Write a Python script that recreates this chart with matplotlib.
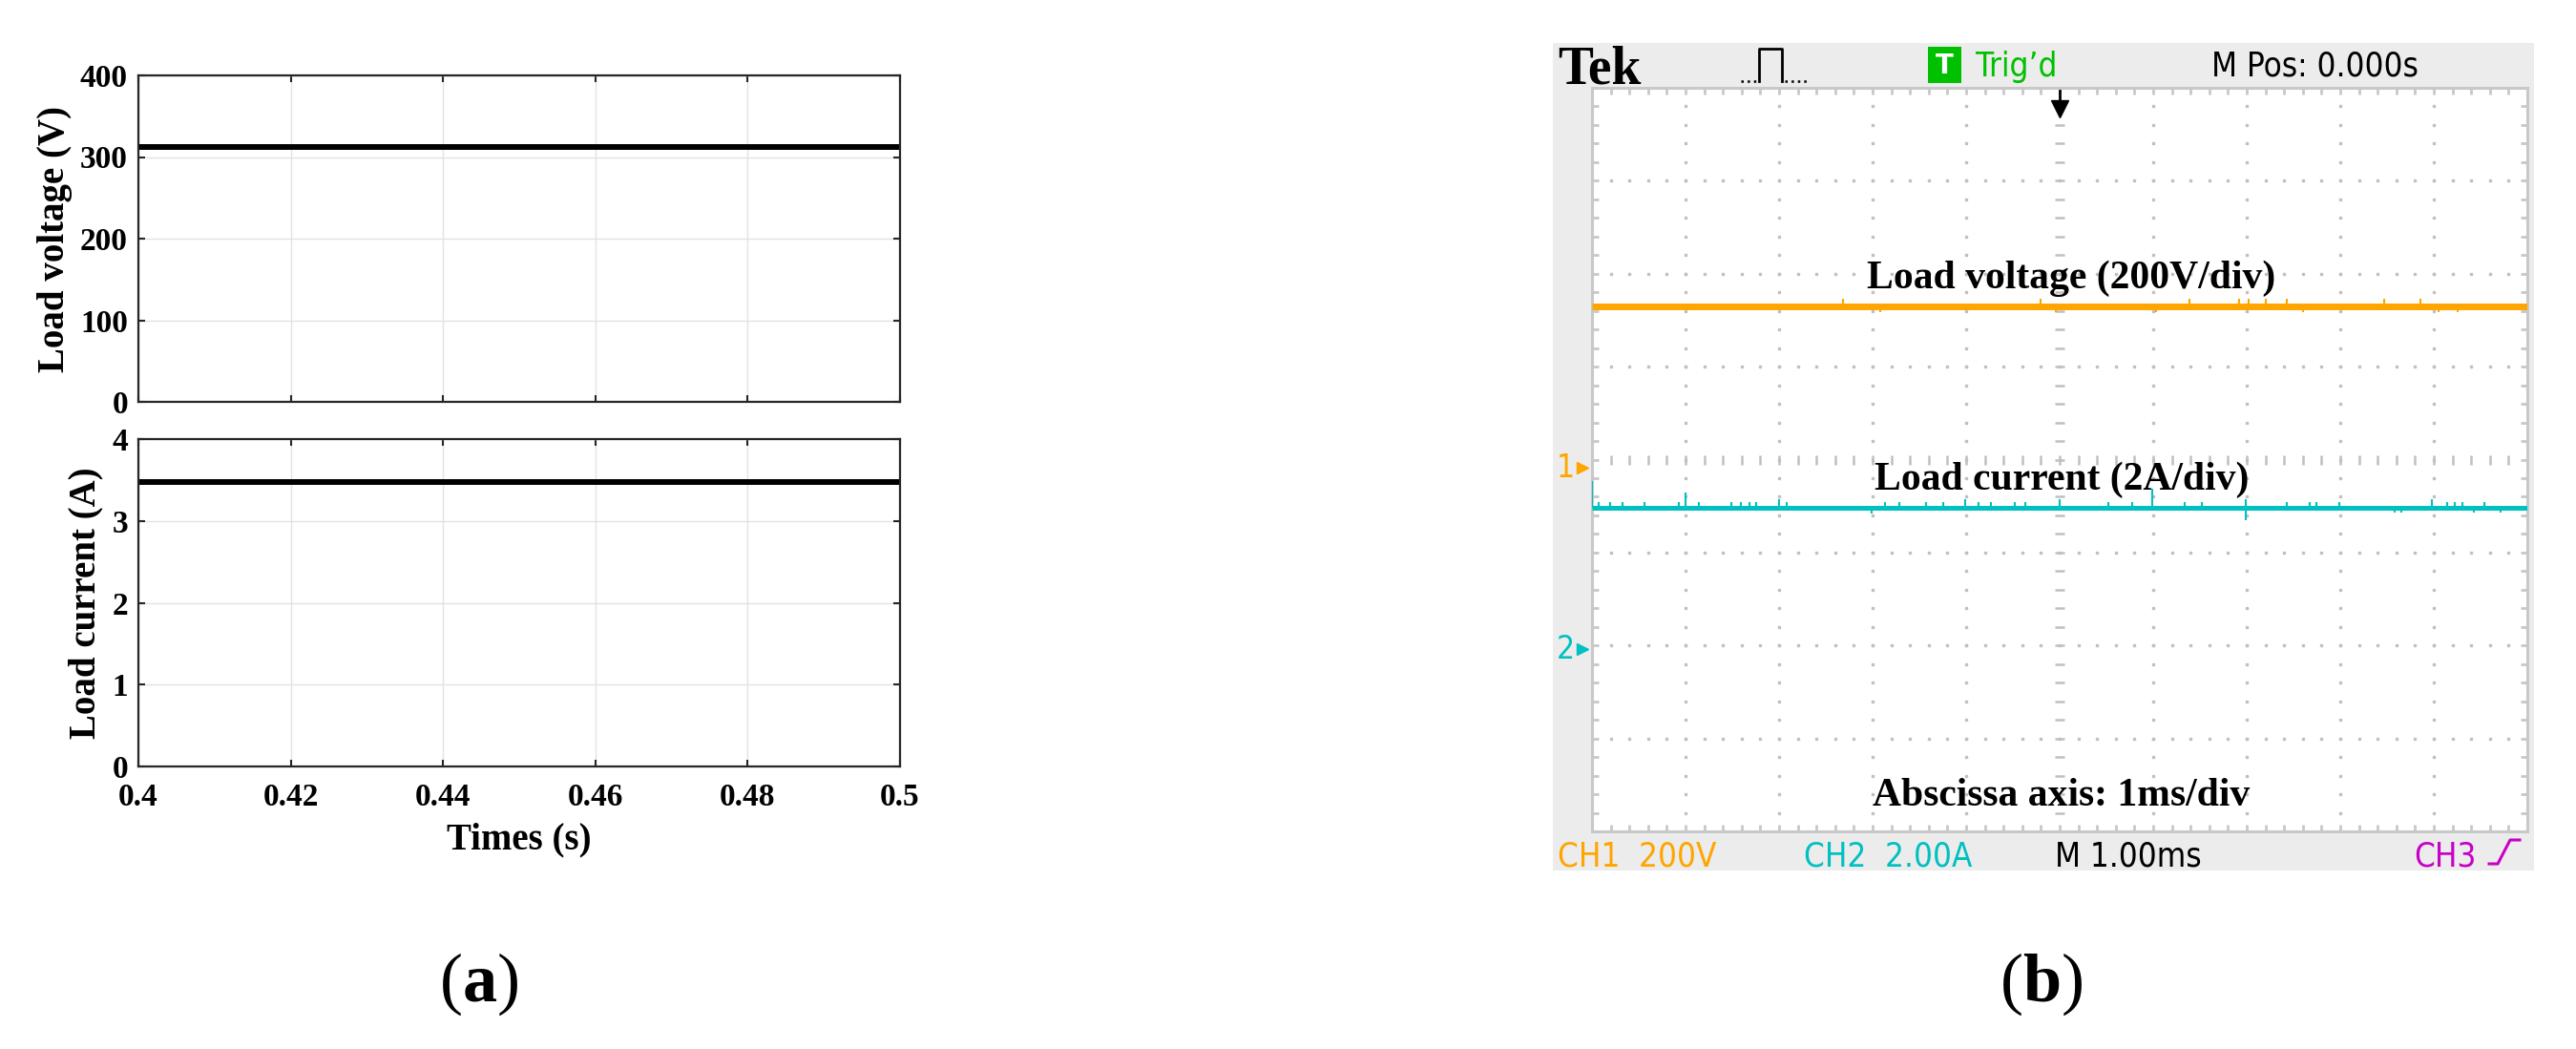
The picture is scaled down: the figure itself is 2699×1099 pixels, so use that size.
import numpy as np
import matplotlib
matplotlib.use('Agg')
from matplotlib import pyplot as plt
from matplotlib.patches import Rectangle

W, H = 2699, 1099

# (a) simulated load waveforms
sim_time = [0.4, 0.5]
sim_voltage = [312, 312]
sim_current = [3.48, 3.48]
time_ticks = [0.4, 0.42, 0.44, 0.46, 0.48, 0.5]
time_labels = ['0.4', '0.42', '0.44', '0.46', '0.48', '0.5']
voltage_ticks = [0, 100, 200, 300, 400]
current_ticks = [0, 1, 2, 3, 4]

# (b) oscilloscope capture (1 ms/div, 10 div wide)
scope_time = [0.0, 10.0]
ch1_v_per_div = 200
ch2_a_per_div = 2
ch1_offset_div = -0.09
ch2_offset_div = -2.04
scope_voltage = [348, 348]
scope_current = [3.04, 3.04]
# small glitches seen on the traces (time in ms, deviation)
v_glitch_t = [2.68, 3.08, 4.80, 4.96, 6.03, 6.39, 6.92, 7.02, 7.20, 7.43, 7.60, 8.47, 8.86, 9.05, 9.25]
v_glitch_dv = [16, -13, 16, -13, -13, 16, 16, 16, 16, 16, -13, 16, 16, -13, -13]
i_glitch_t = [0.00, 0.07, 0.19, 0.33, 0.56, 0.93, 1.00, 1.14, 1.49, 1.59, 1.68, 1.75, 2.00, 2.08,
              2.99, 3.13, 3.29, 3.57, 3.76, 3.99, 4.13, 4.27, 4.52, 4.63, 5.00, 5.52, 5.78, 5.99,
              6.34, 6.52, 6.99, 6.99, 7.43, 7.67, 7.74, 7.99, 8.58, 8.65, 8.98, 9.14, 9.22, 9.31,
              9.43, 9.54, 9.71]
i_glitch_di = [0.57, 0.12, 0.12, 0.12, 0.12, 0.12, 0.34, 0.12, 0.12, 0.12, 0.12, 0.12, 0.18, 0.12,
               -0.12, 0.12, 0.12, 0.12, 0.12, 0.18, 0.12, 0.12, 0.12, 0.12, 0.18, 0.12, 0.12, 0.42,
               0.12, 0.12, 0.18, -0.27, 0.12, 0.12, 0.12, 0.12, -0.10, -0.10, 0.18, 0.12, 0.12, 0.12,
               -0.10, 0.12, -0.10]

plt.rcParams['font.family'] = 'Liberation Serif'
plt.rcParams['font.weight'] = 'bold'
plt.rcParams['axes.labelweight'] = 'bold'
plt.rcParams['mathtext.fontset'] = 'custom'
plt.rcParams['mathtext.rm'] = 'Liberation Serif'
plt.rcParams['mathtext.bf'] = 'Liberation Serif:bold'
lcd = dict(family='DejaVu Sans', fontstretch='condensed', fontweight='normal')

fig = plt.figure(figsize=(W / 100, H / 100), dpi=100)

# ---------- (a) ----------
ax1 = fig.add_axes([145 / W, 1 - 421 / H, 798 / W, 342 / H], zorder=2)
ax2 = fig.add_axes([145 / W, 1 - 803 / H, 798 / W, 343 / H], zorder=2)
for ax, y, yt, lab in [(ax1, sim_voltage, voltage_ticks, 'Load voltage (V)'),
                       (ax2, sim_current, current_ticks, 'Load current (A)')]:
    ax.plot(sim_time, y, color='black', lw=4.3, solid_capstyle='butt')
    ax.set_xlim(0.4, 0.5)
    ax.set_ylim(yt[0], yt[-1])
    ax.set_xticks(time_ticks)
    ax.set_yticks(yt)
    ax.grid(True, color='#e2e2e2', lw=1)
    ax.tick_params(direction='in', top=True, right=True, length=5, width=1.5,
                   labelsize=24, pad=8, color='#262626')
    for s in ax.spines.values():
        s.set_linewidth(1.6)
        s.set_color('#262626')
    ax.set_ylabel(lab, fontsize=28, fontweight='bold', labelpad=6)
ax1.set_xticklabels([])
ax2.set_xticklabels(time_labels)
ax2.tick_params(axis='x', pad=12)
ax2.set_xlabel('Times (s)', fontsize=28, fontweight='bold', labelpad=8)

# ---------- (b) ----------
deco = fig.add_axes([0, 0, 1, 1], zorder=0)
deco.set_xlim(0, W)
deco.set_ylim(H, 0)
deco.axis('off')
deco.add_patch(Rectangle((1627, 45), 1028, 867, color='#ececec', lw=0))

sc = fig.add_axes([1668 / W, 1 - 871 / H, 980 / W, 779 / H], zorder=3)
sc.set_xlim(0, 10)
sc.set_ylim(-4, 4)
sc.set_xticks(np.arange(0, 10.01, 0.2))
sc.set_yticks(np.arange(-4, 4.01, 0.2))
sc.tick_params(direction='in', top=True, right=True, length=5, width=2, color='#c8c8c8',
               labelbottom=False, labelleft=False)
for s in sc.spines.values():
    s.set_linewidth(2.2)
    s.set_color('#c8c8c8')

dot = dict(color='#c0c0c0', ls='none', zorder=1)
minor_y = np.arange(-3.8, 3.81, 0.2)
minor_x = np.arange(0.2, 9.81, 0.2)
for i in range(1, 10):
    if i != 5:
        sc.plot(np.full_like(minor_y, i), minor_y, marker='s', ms=1.7, **dot)
for j in range(-3, 4):
    if j != 0:
        sc.plot(minor_x, np.full_like(minor_x, j), marker='s', ms=1.7, **dot)
sc.plot(np.full_like(minor_y, 5), minor_y, marker='_', ms=7.5, mew=1.8, **dot)
sc.plot(minor_x, np.zeros_like(minor_x), marker='|', ms=7.5, mew=1.8, **dot)

orange, cyan, magenta, green = '#ffa500', '#00c0c0', '#c800c8', '#00c000'
v_div = [ch1_offset_div + v / ch1_v_per_div for v in scope_voltage]
i_div = [ch2_offset_div + a / ch2_a_per_div for a in scope_current]
sc.plot(scope_time, v_div, color=orange, lw=5, solid_capstyle='butt', zorder=3)
sc.vlines(v_glitch_t, v_div[0], [v_div[0] + d / ch1_v_per_div for d in v_glitch_dv],
          color=orange, lw=1.5, zorder=3)
sc.plot(scope_time, i_div, color=cyan, lw=3.6, solid_capstyle='butt', zorder=3)
sc.vlines(i_glitch_t, i_div[0], [i_div[0] + d / ch2_a_per_div for d in i_glitch_di],
          color=cyan, lw=1.5, zorder=3)

sc.text(5.12, 1.844, 'Load voltage (200V/div)', ha='center', va='baseline', fontsize=30, zorder=4)
sc.text(5.02, -0.32, 'Load current (2A/div)', ha='center', va='baseline', fontsize=30, zorder=4)
sc.text(5.02, -3.72, 'Abscissa axis: 1ms/div', ha='center', va='baseline', fontsize=30, zorder=4)

# trigger arrow and channel ground markers
sc.plot([5, 5], [3.97, 3.8], color='black', lw=2, clip_on=False, zorder=5)
sc.plot(5, 3.77, marker='v', ms=13, color='black', clip_on=False, zorder=5)
for off, c, lab in [(ch1_offset_div, orange, '1'), (ch2_offset_div, cyan, '2')]:
    sc.text(-0.38, off, lab, color=c, ha='left', va='center', fontsize=24,
            clip_on=False, **lcd)
    sc.plot(-0.1, off, marker='>', ms=8, color=c, clip_on=False)

# header
deco.text(1632, 87, 'Tek', fontsize=40, va='baseline', ha='left')
deco.plot([1824, 1842], [85, 85], color='black', ls=':', lw=1.8)
deco.plot([1843, 1843, 1867, 1867], [85, 51, 51, 85], color='black', lw=2)
deco.plot([1870, 1894], [85, 85], color='black', ls=':', lw=1.8)
deco.add_patch(Rectangle((2020, 49), 35, 38, color=green, lw=0))
deco.text(2037.5, 69, 'T', color='white', ha='center', va='center', fontsize=20,
          family='DejaVu Sans', fontweight='bold')
hdr = dict(va='baseline', ha='left', fontsize=25, **lcd)
deco.text(2070, 80, 'Trig\u2019d', color=green, **hdr)
deco.text(2317, 80, 'M Pos: 0.000s', color='black', **hdr)

# status line
deco.text(1632, 907, 'CH1  200V', color=orange, **hdr)
deco.text(1890, 907, 'CH2  2.00A', color=cyan, **hdr)
deco.text(2153, 907, 'M 1.00ms', color='black', **hdr)
deco.text(2529, 907, 'CH3', color=magenta, **hdr)
deco.plot([2608, 2617, 2630, 2640], [905, 905, 880, 880], color=magenta, lw=2.2)

# panel labels
fig.text(502 / W, 1 - 1031 / H, r'($\mathbf{a}$)', ha='center', va='center',
         fontsize=52, fontweight='normal')
fig.text(2139 / W, 1 - 1031 / H, r'($\mathbf{b}$)', ha='center', va='center',
         fontsize=52, fontweight='normal')

fig.savefig('out.png', dpi=100)
